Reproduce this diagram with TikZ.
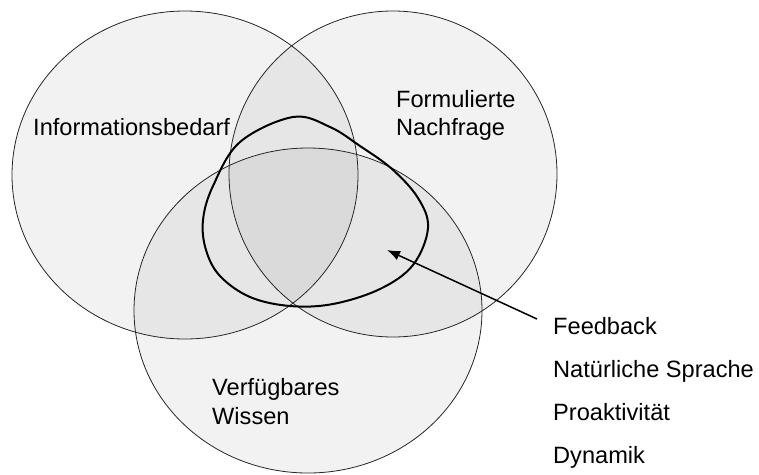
\documentclass[tikz,border=0pt]{standalone}
\usepackage{fontspec}
\setmainfont{Liberation Sans}
\usetikzlibrary{arrows.meta}
\begin{document}
\begin{tikzpicture}[x=1pt,y=-1pt,
  setfill/.style={fill=black,fill opacity=0.05},
  setline/.style={draw=black!85,line width=0.8pt},
  boldline/.style={draw=black,line width=2pt},
  lbl/.style={anchor=base west,inner sep=0pt,font=\fontsize{23.6}{28}\selectfont,text=black}]
\useasboundingbox (0,0) rectangle (759,474);
% fills
\fill[setfill] (185,175) ellipse [x radius=173,y radius=164];
\fill[setfill] (393,174) ellipse [x radius=164,y radius=163];
\fill[setfill] (308,310.5) ellipse [x radius=174,y radius=162.5];
% outlines
\draw[setline] (185,175) ellipse [x radius=173,y radius=164];
\draw[setline] (393,174) ellipse [x radius=164,y radius=163];
\draw[setline] (308,310.5) ellipse [x radius=174,y radius=162.5];
% bold shape
\draw[boldline] plot[smooth cycle,tension=0.6] coordinates {
 (203,220) (213,186) (240,142) (293,117) (330,127) (360,146) (392,169)
 (418,198) (428,228) (413,265) (380,289) (333,304) (290,306)
 (250,297) (220,276) (206,250)};
% labels
\node[lbl] (info) at (33,135) {Informationsbedarf};
\node[lbl] (form) at (396,107) {Formulierte};
\node[lbl] (nach) at (396,135) {Nachfrage};
\node[lbl] (verf) at (212,395) {Verfügbares};
\node[lbl] (wiss) at (212,424) {Wissen};
\node[lbl] (feed) at (553,334) {Feedback};
\node[lbl] (nat) at (553,377) {Natürliche Sprache};
\node[lbl] (pro) at (553,420) {Proaktivität};
\node[lbl] (dyn) at (553,463) {Dynamik};
% arrow
\coordinate (astart) at (537,319);
\coordinate (atip) at (387,250);
\draw[line width=1.5pt,-{Latex[length=13pt,width=10pt]}] (astart) -- (atip);
\end{tikzpicture}
\end{document}
